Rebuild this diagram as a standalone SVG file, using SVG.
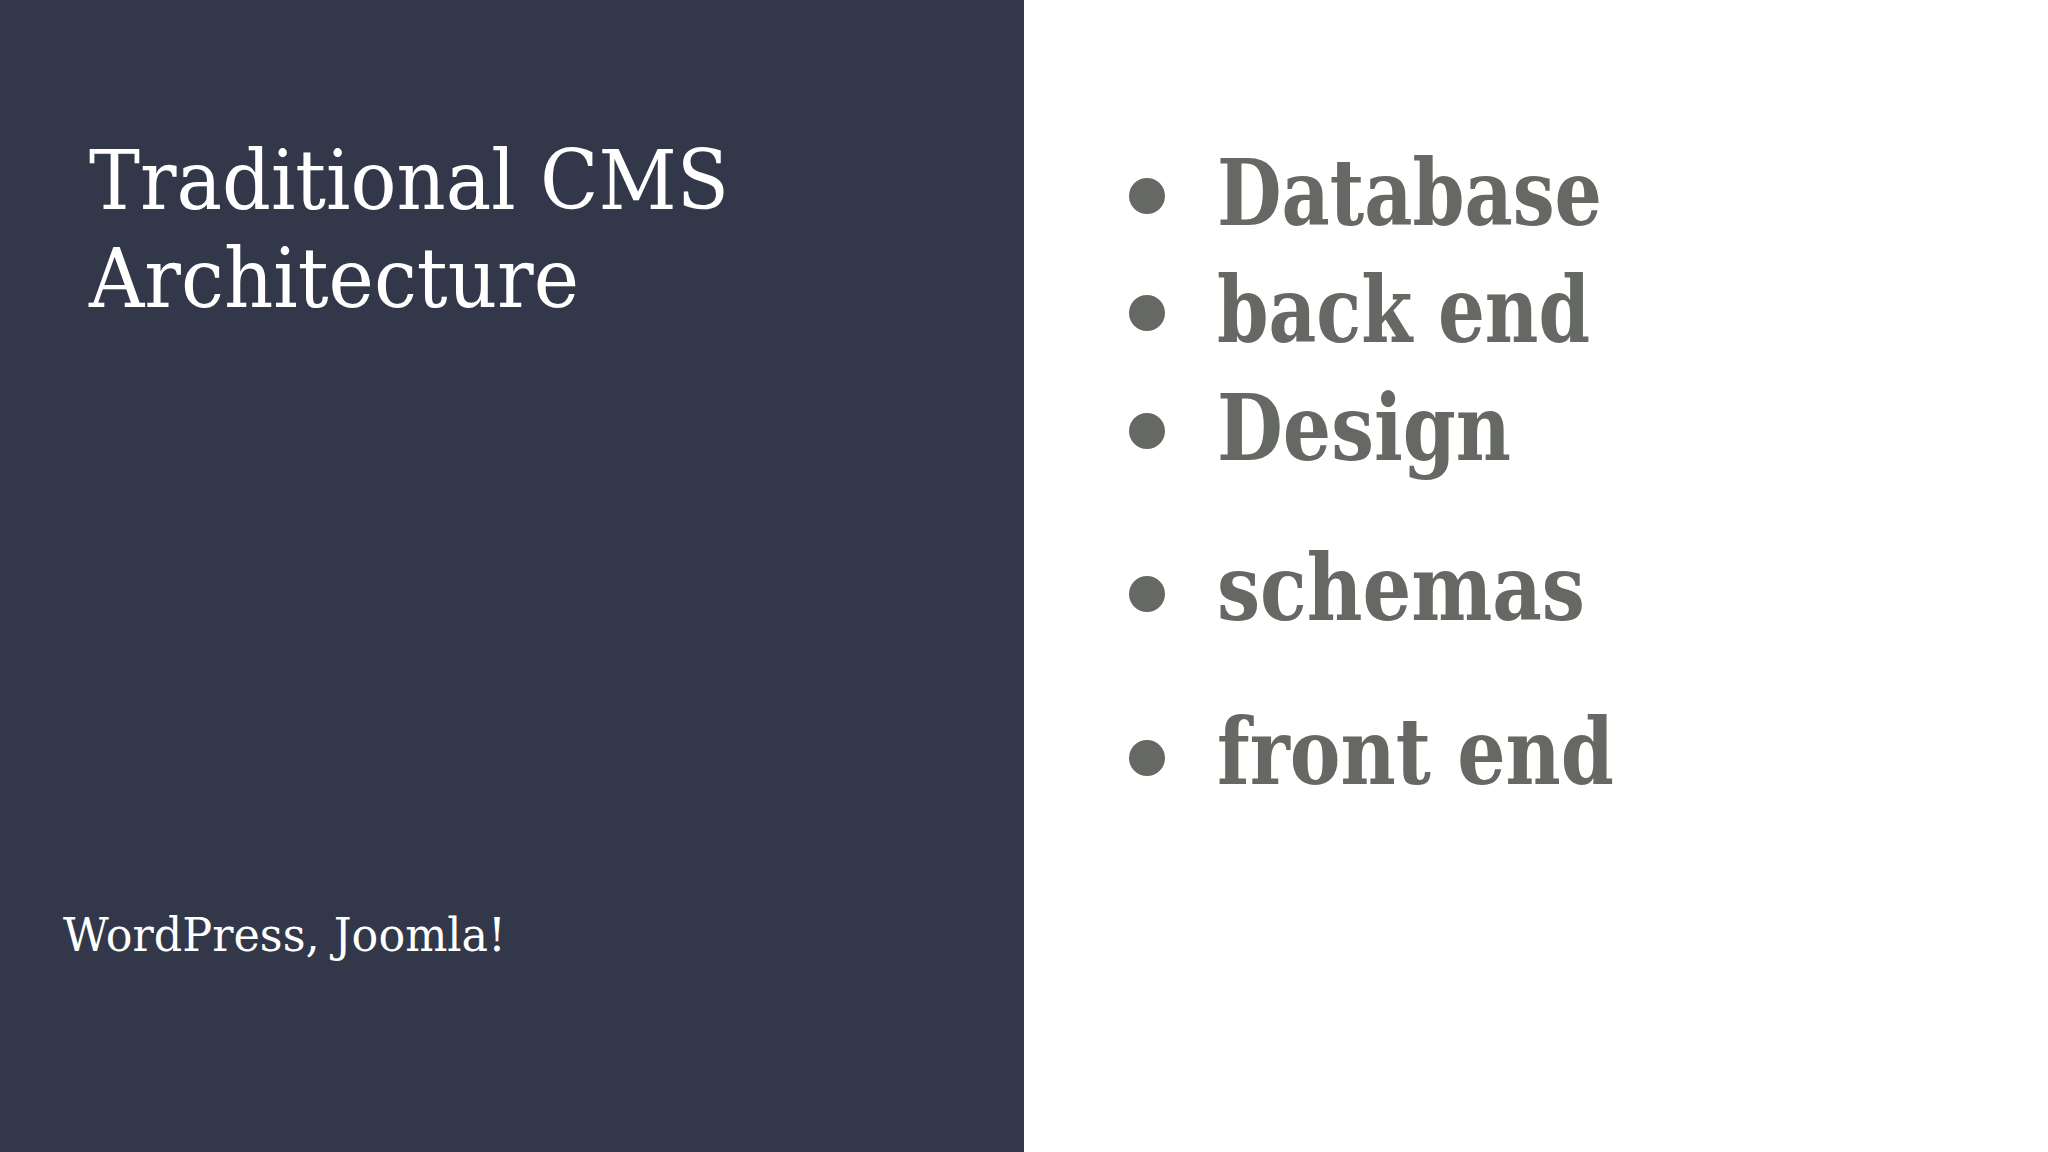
<svg xmlns="http://www.w3.org/2000/svg" width="2048" height="1152" viewBox="0 0 2048 1152">
<style>
.t{font-family:"DejaVu Serif","Liberation Serif",serif;fill:#ffffff}
.b{font-family:"DejaVu Serif","Liberation Serif",serif;font-weight:bold;fill:#666864;font-size:92px}
.d{fill:#666864}
</style>
<rect width="2048" height="1152" fill="#ffffff"/>
<rect width="1024" height="1152" fill="#323749"/>
<g id="title">
<text class="t" x="89" y="209" font-size="82" textLength="640" lengthAdjust="spacingAndGlyphs">Traditional CMS</text>
<text class="t" x="89" y="307" font-size="82" textLength="490" lengthAdjust="spacingAndGlyphs">Architecture</text>
</g>
<g id="subtitle">
<text class="t" x="63" y="951" font-size="46" textLength="443" lengthAdjust="spacingAndGlyphs">WordPress, Joomla!</text>
</g>
<g id="bullets">
<circle class="d" cx="1147" cy="196" r="18"/><text class="b" x="1217" y="225" textLength="385" lengthAdjust="spacingAndGlyphs">Database</text>
<circle class="d" cx="1147" cy="313" r="18"/><text class="b" x="1217" y="342" textLength="373" lengthAdjust="spacingAndGlyphs">back end</text>
<circle class="d" cx="1147" cy="431" r="18"/><text class="b" x="1217" y="460" textLength="294" lengthAdjust="spacingAndGlyphs">Design</text>
<circle class="d" cx="1147" cy="594" r="18"/><text class="b" x="1217" y="620" textLength="368" lengthAdjust="spacingAndGlyphs">schemas</text>
<circle class="d" cx="1147" cy="758" r="18"/><text class="b" x="1217" y="784" textLength="397" lengthAdjust="spacingAndGlyphs">front end</text>
</g>
</svg>
